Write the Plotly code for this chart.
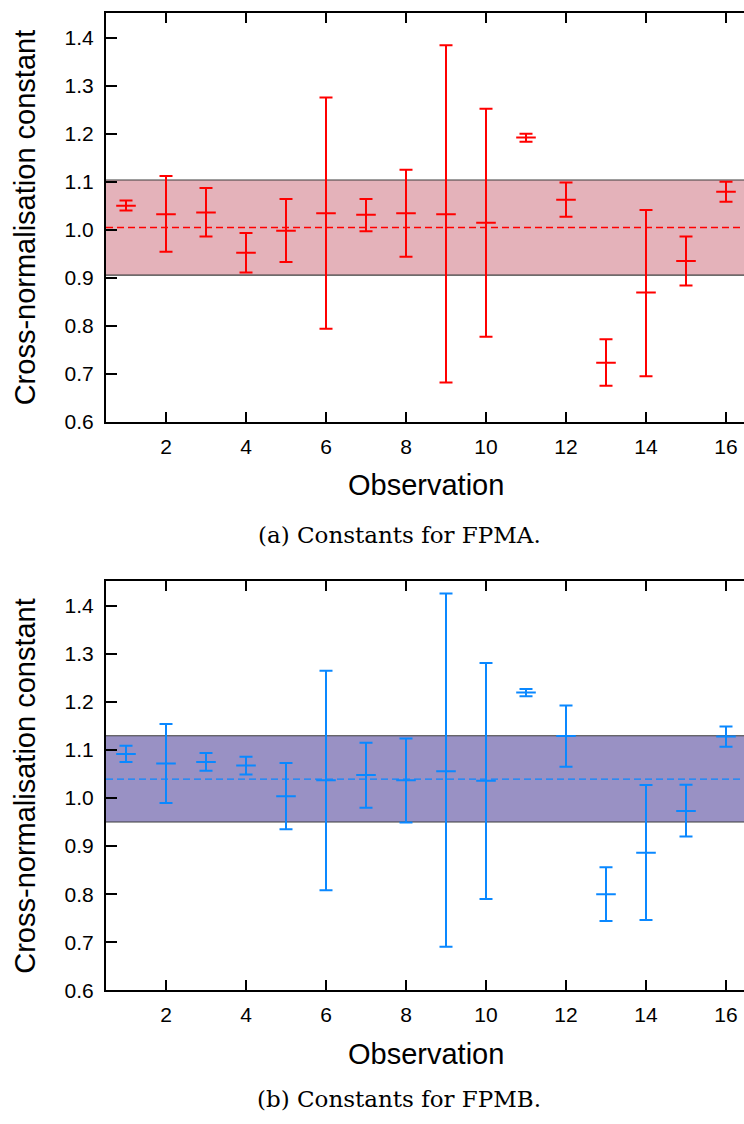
import plotly.graph_objects as go

# ---------------- data ----------------
observations = list(range(1, 17))

fpma_value = [1.050, 1.032, 1.036, 0.952, 0.998, 1.034, 1.031, 1.034,
              1.032, 1.0145, 1.192, 1.0625, 0.723, 0.869, 0.935, 1.079]
fpma_upper = [1.061, 1.112, 1.087, 0.993, 1.064, 1.275, 1.064, 1.125,
              1.384, 1.252, 1.200, 1.098, 0.772, 1.041, 0.986, 1.0996]
fpma_lower = [1.040, 0.954, 0.986, 0.911, 0.933, 0.794, 0.997, 0.9435,
              0.682, 0.777, 1.183, 1.027, 0.675, 0.695, 0.884, 1.058]
fpma_band = (0.9055, 1.1035)
fpma_mean = 1.0047

fpmb_value = [1.092, 1.072, 1.075, 1.068, 1.004, 1.037, 1.048, 1.037,
              1.056, 1.036, 1.220, 1.129, 0.800, 0.886, 0.973, 1.128]
fpmb_upper = [1.109, 1.154, 1.094, 1.086, 1.073, 1.265, 1.115, 1.124,
              1.426, 1.281, 1.227, 1.193, 0.856, 1.027, 1.028, 1.149]
fpmb_lower = [1.075, 0.990, 1.057, 1.049, 0.935, 0.808, 0.980, 0.949,
              0.6906, 0.790, 1.212, 1.065, 0.744, 0.746, 0.920, 1.107]
fpmb_band = (0.9502, 1.1298)
fpmb_mean = 1.0395

x_ticks = [2, 4, 6, 8, 10, 12, 14, 16]
y_ticks = [0.6, 0.7, 0.8, 0.9, 1.0, 1.1, 1.2, 1.3, 1.4]
y_ticklabels = ["0.6", "0.7", "0.8", "0.9", "1.0", "1.1", "1.2", "1.3", "1.4"]

x_title = "Observation"
y_title = "Cross-normalisation constant"
captions = ["(a) Constants for FPMA.", "(b) Constants for FPMB."]

# ---------------- styling ----------------
W, H = 744, 1124
RED = "#ff0000"
BLUE = "#0a88ff"
PINK = "#e4b2ba"
PURPLE = "#9991c4"
SANS = "Liberation Sans, Arial, sans-serif"
SERIF = "DejaVu Serif, serif"

x_left = 106 / W
panels = [
    dict(top=13, bottom=426, value=fpma_value, upper=fpma_upper, lower=fpma_lower,
         band=fpma_band, mean=fpma_mean, color=RED, fill=PINK),
    dict(top=587, bottom=1000, value=fpmb_value, upper=fpmb_upper, lower=fpmb_lower,
         band=fpmb_band, mean=fpmb_mean, color=BLUE, fill=PURPLE),
]

fig = go.Figure()
shapes = []
annotations = []
layout = {}

for i, p in enumerate(panels):
    n = i + 1
    xa = "x" if n == 1 else f"x{n}"
    ya = "y" if n == 1 else f"y{n}"
    xkey = "xaxis" if n == 1 else f"xaxis{n}"
    ykey = "yaxis" if n == 1 else f"yaxis{n}"
    yrkey = f"yaxis{n + 2}"

    plus = [u - v for u, v in zip(p["upper"], p["value"])]
    minus = [v - l for v, l in zip(p["value"], p["lower"])]

    fig.add_trace(go.Scatter(
        x=observations, y=p["value"], mode="markers",
        xaxis=xa, yaxis=ya, showlegend=False,
        marker=dict(symbol="line-ew", size=14, color=p["color"],
                    line=dict(color=p["color"], width=2)),
        error_y=dict(type="data", symmetric=False, array=plus, arrayminus=minus,
                     color=p["color"], thickness=2, width=6.5),
    ))

    dom = [1 - p["bottom"] / H, 1 - p["top"] / H]
    yrange = [0.6, 1.4514]
    layout[xkey] = dict(
        domain=[x_left, 1], anchor=ya, range=[0.5, 16.45],
        tickvals=x_ticks, ticks="inside", ticklen=10, tickwidth=1.6, tickcolor="black",
        showline=True, linewidth=2, linecolor="black", mirror="ticks",
        showgrid=False, zeroline=False, ticklabelstandoff=5,
        tickfont=dict(family=SANS, size=21, color="black"),
    )
    layout[ykey] = dict(
        domain=dom, anchor=xa, range=yrange,
        tickvals=y_ticks, ticktext=y_ticklabels,
        ticks="inside", ticklen=11, tickwidth=1.6, tickcolor="black",
        showline=True, linewidth=2, linecolor="black",
        showgrid=False, zeroline=False, ticklabelstandoff=6,
        tickfont=dict(family=SANS, size=21, color="black"),
    )
    layout[yrkey] = dict(
        overlaying=ya, anchor=xa, side="right", range=yrange,
        tickvals=y_ticks, ticks="inside", ticklen=10, tickwidth=1.6, tickcolor="black",
        showticklabels=False, showline=False, showgrid=False, zeroline=False,
    )

    lo, hi = p["band"]
    shapes.append(dict(type="rect", xref=f"{xa} domain", yref=ya, x0=0, x1=1,
                       y0=lo, y1=hi, fillcolor=p["fill"], line=dict(width=0),
                       layer="below"))
    for yv in (lo, hi):
        shapes.append(dict(type="line", xref=f"{xa} domain", yref=ya, x0=0, x1=1,
                           y0=yv, y1=yv, line=dict(color="#3c3c3c", width=1.2),
                           layer="below"))
    shapes.append(dict(type="line", xref=f"{xa} domain", yref=ya, x0=0, x1=1,
                       y0=p["mean"], y1=p["mean"],
                       line=dict(color=p["color"], width=1.4, dash="7px,4px"),
                       layer="below"))

    mid = (p["top"] + p["bottom"]) / 2
    annotations.append(dict(text=y_title, xref="paper", yref="paper",
                             x=25 / W, y=1 - mid / H, textangle=-90,
                             xanchor="center", yanchor="middle", showarrow=False,
                             font=dict(family=SANS, size=29, color="black")))
    annotations.append(dict(text=x_title, xref="paper", yref="paper",
                             x=426 / W, y=1 - (p["bottom"] + 64) / H,
                             xanchor="center", yanchor="middle", showarrow=False,
                             font=dict(family=SANS, size=29, color="black")))
    cap_y = 540 if n == 1 else 1110
    annotations.append(dict(text=captions[i], xref="paper", yref="paper",
                             x=399 / W, y=1 - cap_y / H,
                             xanchor="center", yanchor="middle", showarrow=False,
                             font=dict(family=SERIF, size=23, color="black")))

fig.update_layout(
    width=W, height=H,
    margin=dict(l=0, r=0, t=0, b=0),
    paper_bgcolor="white", plot_bgcolor="white",
    shapes=shapes, annotations=annotations,
    **layout,
)

fig.write_html("out.html")
